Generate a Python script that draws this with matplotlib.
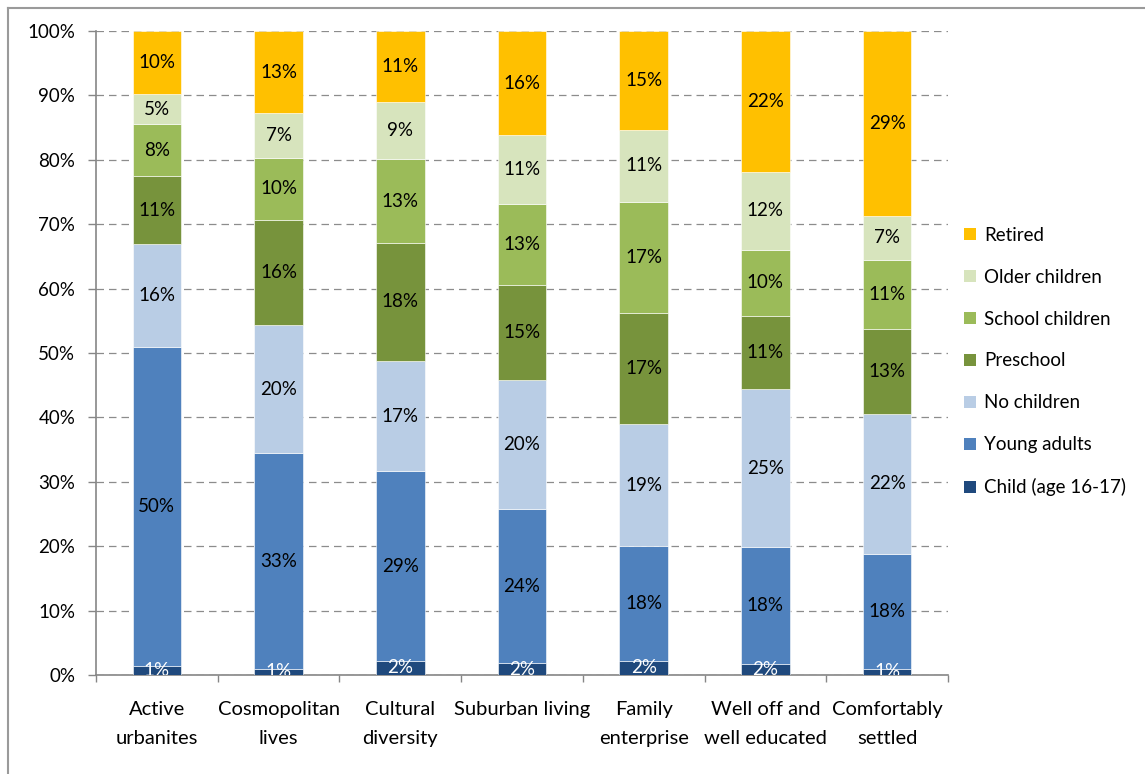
import matplotlib
matplotlib.use("Agg")
import matplotlib.pyplot as plt
from matplotlib.lines import Line2D
from matplotlib.ticker import FuncFormatter, FixedLocator
import numpy as np

categories = ["Active\nurbanites", "Cosmopolitan\nlives", "Cultural\ndiversity",
              "Suburban living\n", "Family\nenterprise", "Well off and\nwell educated",
              "Comfortably\nsettled"]
series_names = ["Child (age 16-17)", "Young adults", "No children", "Preschool",
                "School children", "Older children", "Retired"]
child = [1.4, 1.0, 2.2, 1.8, 2.2, 1.7, 1.0]
young_adults = [49.6, 33.4, 29.4, 23.9, 17.8, 18.1, 17.8]
no_children = [15.9, 19.9, 17.2, 20.1, 18.9, 24.6, 21.8]
preschool = [10.6, 16.4, 18.3, 14.7, 17.3, 11.4, 13.2]
school_children = [8.0, 9.6, 13.0, 12.6, 17.2, 10.2, 10.7]
older_children = [4.7, 6.9, 8.8, 10.7, 11.3, 12.1, 6.8]
retired = [9.8, 12.8, 11.1, 16.2, 15.3, 21.9, 28.7]
y_ticks = [0, 10, 20, 30, 40, 50, 60, 70, 80, 90, 100]

series = [child, young_adults, no_children, preschool, school_children, older_children, retired]
colors = ["#1F497D", "#4F81BD", "#B9CDE5", "#77933C", "#9BBB59", "#D7E4BD", "#FFC000"]
label_colors = ["white", "black", "black", "black", "black", "black", "black"]

FONT = "Lato"
FS = 13.5
FSX = 14.5
plt.rcParams['font.family'] = [FONT, 'DejaVu Sans']

fig = plt.figure(figsize=(11.45, 7.74), dpi=100)
W, H = 1145, 774
ax = fig.add_axes([96 / W, (H - 675) / H, (948 - 96) / W, (675 - 31) / H])

x = np.arange(len(categories))
bottom = np.zeros(len(categories))
handles = []
for vals, name, col, lc in zip(series, series_names, colors, label_colors):
    vals = np.array(vals)
    bars = ax.bar(x, vals, width=0.4, bottom=bottom, color=col, label=name,
                  edgecolor="#ffffff", linewidth=0.4, zorder=3)
    handles.append(bars)
    for xi, b, v in zip(x, bottom, vals):
        ax.text(xi, b + v / 2, f"{int(round(v))}%", ha="center", va="center",
                fontsize=FS, color=lc, zorder=4, clip_on=True)
    bottom = bottom + vals

ax.set_xlim(-0.5, len(categories) - 0.5)
ax.set_ylim(0, 100)

# grid
ax.yaxis.set_major_locator(FixedLocator(y_ticks))
ax.yaxis.set_major_formatter(FuncFormatter(lambda v, p: f"{int(v)}%"))
ax.grid(axis="y", color="#8c8c8c", linestyle=(0, (6, 4)), linewidth=0.9, zorder=0)
ax.set_axisbelow(True)

for s in ["top", "right"]:
    ax.spines[s].set_visible(False)
for s in ["left", "bottom"]:
    ax.spines[s].set_color("#868686")
    ax.spines[s].set_linewidth(1.2)

ax.tick_params(axis="y", length=6, width=1.0, color="#868686", pad=9,
               labelsize=FS, labelcolor="black")
ax.set_xticks(x)
ax.set_xticklabels(categories, fontsize=FSX, linespacing=1.85)
ax.tick_params(axis="x", which="major", length=0, pad=19)
ax.set_xticks(np.arange(-0.5, len(categories) + 0.5, 1), minor=True)
ax.tick_params(axis="x", which="minor", length=5, width=1.0, color="#868686")

leg = ax.legend(handles=handles[::-1], labels=series_names[::-1],
                loc="center left", bbox_to_anchor=(964 / W, (H - 361.5) / H),
                bbox_transform=fig.transFigure, frameon=False, fontsize=FS,
                handlelength=0.64, handleheight=0.64, handletextpad=0.42,
                labelspacing=1.33, borderpad=0, borderaxespad=0)
for h in leg.legend_handles:
    h.set_edgecolor("none")

# outer chart border (left and top)
fig.add_artist(Line2D([7.5 / W, 7.5 / W], [0, (H - 7.5) / H], color="#9a9a9a", lw=1.5,
                      transform=fig.transFigure))
fig.add_artist(Line2D([7.5 / W, 1], [(H - 7.5) / H, (H - 7.5) / H], color="#9a9a9a", lw=1.5,
                      transform=fig.transFigure))

fig.savefig("out.png", dpi=100)
